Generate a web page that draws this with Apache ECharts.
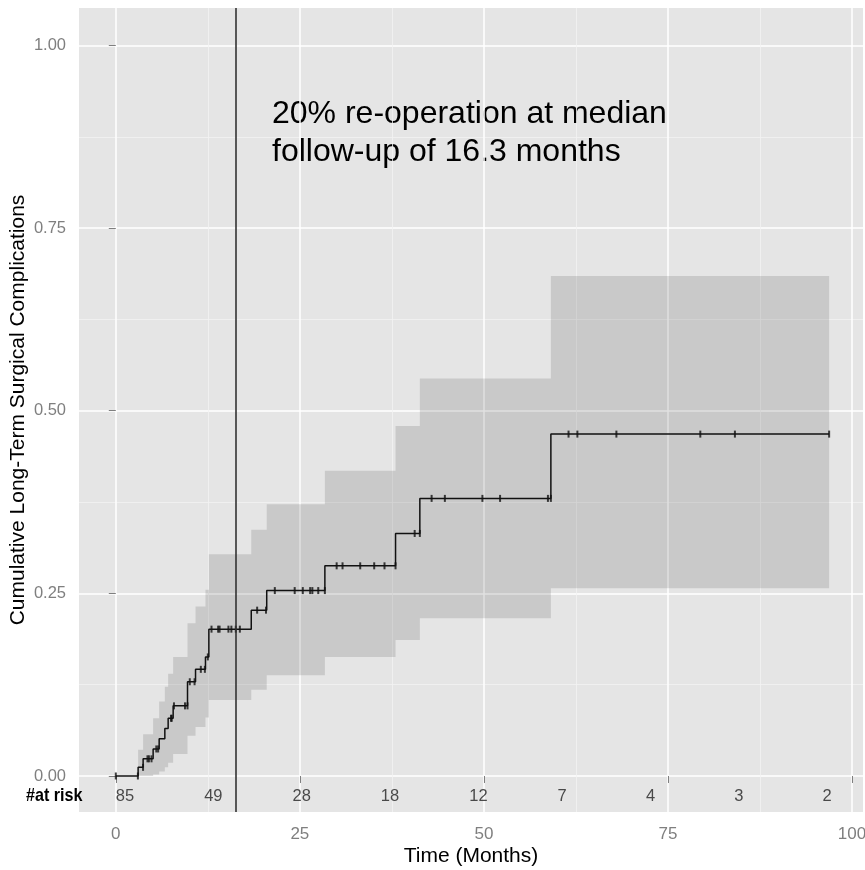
<!DOCTYPE html>
<html>
<head>
<meta charset="utf-8">
<script src="https://cdn.jsdelivr.net/npm/echarts@6/dist/echarts.min.js"></script>
<style>
html, body { margin: 0; padding: 0; background: #fff; }
#chart { width: 865px; height: 870px; }
</style>
</head>
<body>
<div id="chart"></div>
<script>
// cumulative incidence step curve : each level starts at stepTimes[i]
var stepTimes = [0, 3.03, 3.71, 5.07, 5.89, 6.66, 7.11, 7.79, 9.74, 10.83, 12.18, 12.64, 18.4, 20.5, 28.4, 38.0, 41.3, 59.1, 96.9];
var cumInc    = [0, 0.0118, 0.0235, 0.037, 0.051, 0.065, 0.079, 0.096, 0.129, 0.146, 0.163, 0.201, 0.227, 0.2538, 0.2877, 0.332, 0.380, 0.468, 0.468];
var ciLower   = [0, 0, 0, 0.002, 0.006, 0.012, 0.018, 0.03, 0.055, 0.067, 0.08, 0.104, 0.118, 0.138, 0.163, 0.186, 0.216, 0.257, 0.257];
var ciUpper   = [0, 0.036, 0.057, 0.079, 0.102, 0.122, 0.14, 0.163, 0.209, 0.232, 0.255, 0.3035, 0.337, 0.372, 0.418, 0.479, 0.544, 0.6845, 0.6845];

// censored observations (months)
var censorTimes = [0, 3.0, 3.7, 4.3, 4.5, 4.85, 5.5, 5.75, 7.5, 7.6, 7.9, 9.4, 9.74, 10.05, 10.7, 11.55, 12.1, 12.5,
  13.0, 13.9, 14.1, 15.3, 15.7, 16.3, 16.85, 19.2, 20.4, 21.6, 24.3, 25.4, 26.4, 26.7, 27.5, 28.4,
  30.0, 30.8, 33.2, 35.1, 36.5, 38.0, 40.6, 41.3, 42.9, 44.7, 49.8, 52.2, 58.7, 59.1,
  61.5, 62.7, 68.0, 79.4, 84.1, 96.9];

// number at risk table
var atRiskTimes  = [0, 12, 24, 36, 48, 60, 72, 84, 96];
var atRiskCounts = [85, 49, 28, 18, 12, 7, 4, 3, 2];

var xTicks = [0, 25, 50, 75, 100];
var xMinor = [12.5, 37.5, 62.5, 87.5];
var yTicks = [0, 0.25, 0.5, 0.75, 1];
var yMinor = [0.125, 0.375, 0.625, 0.875];

var medianFollowUp = 16.3;

function levelBefore(t) {
  var v = 0;
  for (var i = 0; i < stepTimes.length; i++) {
    if (stepTimes[i] < t) v = cumInc[i];
  }
  return v;
}

var sans = "'Liberation Sans', Arial, sans-serif";

var chart = echarts.init(document.getElementById('chart'));

chart.setOption({
  animation: false,
  grid: {
    left: 79, right: 2, top: 8, bottom: 58,
    show: true, backgroundColor: '#E5E5E5', borderWidth: 0,
    outerBoundsMode: 'none'
  },
  xAxis: [{
    type: 'value', min: -5.0, max: 101.5,
    axisLine: { show: false },
    axisTick: { customValues: xTicks, length: 7, lineStyle: { color: '#7F7F7F', width: 1 } },
    axisLabel: { customValues: xTicks, color: '#7F7F7F', fontSize: 17, fontFamily: sans, margin: 14 },
    splitLine: { show: true, lineStyle: { color: '#FFFFFF', width: 1.5 } },
    name: 'Time (Months)', nameLocation: 'middle', nameGap: 34, nameMoveOverlap: false,
    nameTextStyle: { color: '#000', fontSize: 21, fontFamily: sans }
  }, {
    type: 'value', min: -5.0, max: 101.5, position: 'bottom',
    axisLine: { show: false },
    axisTick: { show: false, customValues: xMinor },
    axisLabel: { show: false, customValues: xMinor },
    splitLine: { show: true, lineStyle: { color: '#F2F2F2', width: 0.8 } }
  }],
  yAxis: [{
    type: 'value', min: -0.0493, max: 1.0513,
    axisLine: { show: false },
    axisTick: { customValues: yTicks, length: 7, lineStyle: { color: '#7F7F7F', width: 1 } },
    axisLabel: {
      customValues: yTicks, color: '#7F7F7F', fontSize: 16.5, fontFamily: sans, margin: 13,
      formatter: function (v) { return v.toFixed(2); }
    },
    splitLine: { show: true, lineStyle: { color: '#FFFFFF', width: 1.5 } },
    name: 'Cumulative Long-Term Surgical Complications', nameLocation: 'middle', nameGap: 50,
    nameMoveOverlap: false,
    nameTextStyle: { color: '#000', fontSize: 21, fontFamily: sans }
  }, {
    type: 'value', min: -0.0493, max: 1.0513, position: 'left',
    axisLine: { show: false },
    axisTick: { show: false, customValues: yMinor },
    axisLabel: { show: false, customValues: yMinor },
    splitLine: { show: true, lineStyle: { color: '#F2F2F2', width: 0.8 } }
  }],
  graphic: [{
    type: 'text', x: 272, y: 95,
    style: {
      text: '20% re-operation at median\nfollow-up of 16.3 months',
      font: '32px ' + sans, fill: '#000', lineHeight: 38.4,
      align: 'left', verticalAlign: 'top'
    }
  }, {
    type: 'text', x: 26, y: 796, scaleX: 0.85,
    style: {
      text: '#at risk', font: 'bold 19px ' + sans, fill: '#000',
      align: 'left', verticalAlign: 'middle'
    }
  }],
  series: [{
    name: 'confidence band', type: 'custom', silent: true, z: 1,
    data: [[0, 0]],
    renderItem: function (params, api) {
      var pts = [];
      var n = stepTimes.length;
      for (var i = 0; i < n - 1; i++) {
        pts.push(api.coord([stepTimes[i], ciUpper[i]]));
        pts.push(api.coord([stepTimes[i + 1], ciUpper[i]]));
      }
      for (var j = n - 2; j >= 0; j--) {
        pts.push(api.coord([stepTimes[j + 1], ciLower[j]]));
        pts.push(api.coord([stepTimes[j], ciLower[j]]));
      }
      return {
        type: 'polygon',
        shape: { points: pts },
        style: { fill: 'rgba(0,0,0,0.12)' }
      };
    }
  }, {
    name: 'cumulative incidence', type: 'line', step: 'end', silent: true, z: 3,
    showSymbol: false, symbol: 'none',
    lineStyle: { color: '#111', width: 1.5 },
    data: stepTimes.map(function (t, i) { return [t, cumInc[i]]; }),
    markLine: {
      silent: true, symbol: ['none', 'none'],
      label: { show: false },
      lineStyle: { color: '#333', width: 1.6, type: 'solid' },
      data: [{ xAxis: medianFollowUp }]
    }
  }, {
    name: 'censored', type: 'scatter', silent: true, z: 4,
    symbol: 'rect', symbolSize: [2, 7],
    itemStyle: { color: '#111' },
    data: censorTimes.map(function (t) { return [t, levelBefore(t)]; })
  }, {
    name: 'at risk', type: 'scatter', silent: true,
    symbolSize: 0.1, itemStyle: { color: 'rgba(0,0,0,0)' },
    label: {
      show: true, position: 'right', distance: 0,
      color: '#222', fontSize: 16.5, fontFamily: sans,
      formatter: function (p) { return String(atRiskCounts[p.dataIndex]); }
    },
    data: atRiskTimes.map(function (t) { return [t, -0.028]; })
  }]
});
</script>
</body>
</html>
